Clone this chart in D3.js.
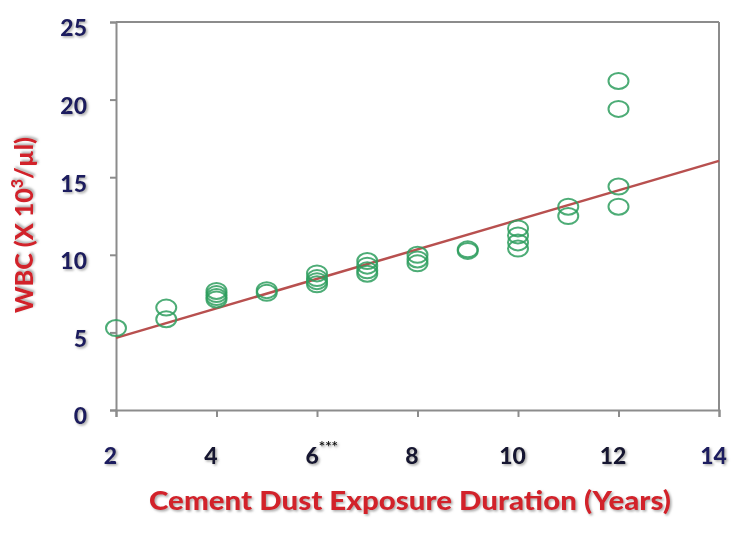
<!DOCTYPE html>
<html>
<head>
<meta charset="utf-8">
<script src="https://cdn.jsdelivr.net/npm/d3@7/dist/d3.min.js"></script>
<style>
  html, body { margin: 0; padding: 0; background: #ffffff; }
  svg { display: block; }
</style>
</head>
<body>
<div id="chart"></div>
<script>
// ---- data ----
const exposureYears = [2, 3, 3, 4, 4, 4, 4, 5, 5, 6, 6, 6, 6, 7, 7, 7, 7, 8, 8, 8, 9, 9, 10, 10, 10, 10, 11, 11, 12, 12, 12, 12];
const wbcValues     = [5.28, 6.6, 5.85, 7.67, 7.47, 7.28, 7.12, 7.72, 7.55, 8.8, 8.5, 8.3, 8.1, 9.6, 9.3, 9.0, 8.78, 10.0, 9.7, 9.45, 10.35, 10.25, 11.7, 11.25, 10.8, 10.4, 13.1, 12.5, 21.2, 19.4, 14.4, 13.1];
const trendX = [2, 14];
const trendY = [4.65, 16.05];
const xTicks = [2, 4, 6, 8, 10, 12, 14];
const yTicks = [0, 5, 10, 15, 20, 25];
const xTitle = "Cement Dust Exposure Duration (Years)";
const yTitle = ["WBC (X 10", "3", "/µl)"];
const significanceMark = { tick: 6, text: "***" };

// ---- layout ----
const W = 735, H = 533;
const mLeft = 116, mRight = 719, mTop = 22, mBottom = 410;

const svg = d3.select("#chart").append("svg")
  .attr("width", W).attr("height", H)
  .style("background", "#ffffff");

const defs = svg.append("defs");
const f = defs.append("filter").attr("id", "shadow")
  .attr("x", "-10%").attr("y", "-20%").attr("width", "130%").attr("height", "150%");
f.append("feDropShadow").attr("dx", 1.5).attr("dy", 1.5).attr("stdDeviation", 0.8)
  .attr("flood-color", "#8a8a8a").attr("flood-opacity", 0.75);

const x = d3.scaleLinear().domain([2, 14]).range([mLeft, mRight]);
const y = d3.scaleLinear().domain([0, 25]).range([mBottom, mTop]);

const axisColor = "#8c8c8c";
const labelFont = "Lato, 'Open Sans', sans-serif";

// frame: top and right borders
svg.append("line").attr("x1", x(2)).attr("x2", x(14)).attr("y1", y(25)).attr("y2", y(25))
  .attr("stroke", axisColor).attr("stroke-width", 2);
svg.append("line").attr("x1", x(14)).attr("x2", x(14)).attr("y1", y(25)).attr("y2", y(0))
  .attr("stroke", axisColor).attr("stroke-width", 2);

// y axis
const yAxis = svg.append("g").attr("transform", `translate(${mLeft},0)`)
  .call(d3.axisLeft(y).tickValues(yTicks).tickSize(6).tickPadding(23).tickFormat(d3.format("d")));
yAxis.select(".domain").attr("stroke", axisColor).attr("stroke-width", 2);
yAxis.selectAll(".tick line").attr("stroke", axisColor).attr("stroke-width", 2);
yAxis.selectAll(".tick text")
  .attr("dy", "0.6em")
  .attr("fill", "#1b1b5e")
  .attr("font-family", labelFont)
  .attr("font-weight", 900)
  .attr("font-size", 23)
  .attr("filter", "url(#shadow)");

// x axis
const xAxis = svg.append("g").attr("transform", `translate(0,${mBottom})`)
  .call(d3.axisBottom(x).tickValues(xTicks).tickSize(7).tickPadding(42).tickFormat(d3.format("d")));
xAxis.select(".domain").attr("stroke", axisColor).attr("stroke-width", 2);
xAxis.selectAll(".tick line").attr("stroke", axisColor).attr("stroke-width", 2);
xAxis.selectAll(".tick text")
  .attr("dy", "0.2em")
  .attr("dx", -6)
  .attr("fill", (d) => (d === 2 || d === 14) ? "#1b1b5e" : "#151530")
  .attr("font-family", labelFont)
  .attr("font-weight", 900)
  .attr("font-size", 23)
  .attr("filter", "url(#shadow)");
const sigTick = xAxis.selectAll(".tick").filter(d => d === significanceMark.tick).select("text");
sigTick.attr("text-anchor", "start").attr("dx", -12);
sigTick.append("tspan")
  .attr("font-size", 15)
  .attr("font-weight", "bold")
  .attr("fill", "#111")
  .attr("dy", "-0.75em")
  .text(significanceMark.text);

// trend line
svg.append("line")
  .attr("x1", x(trendX[0])).attr("y1", y(trendY[0]))
  .attr("x2", x(trendX[1])).attr("y2", y(trendY[1]))
  .attr("stroke", "#b8504f").attr("stroke-width", 2.5);

// points
svg.append("g").selectAll("ellipse")
  .data(exposureYears.map((v, i) => ({ x: v, y: wbcValues[i] })))
  .join("ellipse")
  .attr("cx", d => x(d.x)).attr("cy", d => y(d.y))
  .attr("rx", 10).attr("ry", 8)
  .attr("fill", "none")
  .attr("stroke", "#2e9e5e").attr("stroke-width", 2)
  .attr("stroke-opacity", 0.85);

// x title
svg.append("text")
  .attr("x", 410).attr("y", 510)
  .attr("text-anchor", "middle")
  .attr("fill", "#d2202b")
  .attr("font-family", labelFont)
  .attr("font-weight", 900)
  .attr("font-size", 27)
  .attr("textLength", 522).attr("lengthAdjust", "spacingAndGlyphs")
  .attr("filter", "url(#shadow)")
  .text(xTitle);

// y title
const yt = svg.append("text")
  .attr("transform", "translate(33,225) rotate(-90)")
  .attr("text-anchor", "middle")
  .attr("fill", "#d2202b")
  .attr("font-family", labelFont)
  .attr("font-weight", 900)
  .attr("font-size", 25)
  .attr("textLength", 176).attr("lengthAdjust", "spacingAndGlyphs")
  .attr("filter", "url(#shadow)");
yt.append("tspan").text(yTitle[0]);
yt.append("tspan").attr("font-size", 16).attr("dy", "-0.6em").text(yTitle[1]);
yt.append("tspan").attr("dy", "0.38em").text(yTitle[2]);
</script>
</body>
</html>
